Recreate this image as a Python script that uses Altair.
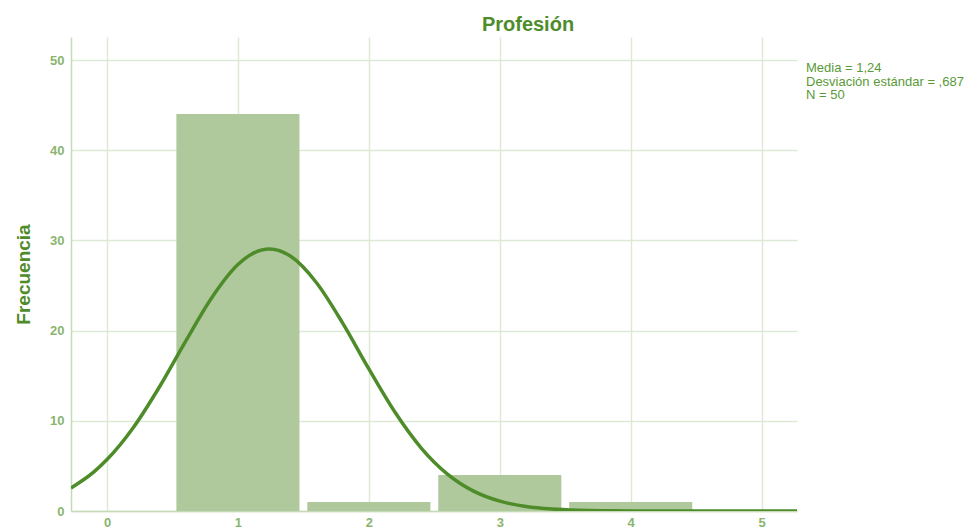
import altair as alt
import pandas as pd

# Histogram data
categories = [1, 2, 3, 4]
counts = [44, 1, 4, 1]

# Normal curve (Media = 1,24, SD = ,687, N = 50)
curve_x = [-0.275, -0.1, 0.0, 0.2, 0.4, 0.6, 0.8, 1.0, 1.1, 1.24, 1.4, 1.6, 1.8,
           2.0, 2.2, 2.4, 2.6, 2.8, 3.0, 3.2, 3.4, 3.6, 3.8, 4.0, 4.5, 5.0, 5.27]
curve_y = [2.55, 4.33, 5.70, 9.23, 13.75, 18.81, 23.65, 27.32, 28.44, 29.04, 28.26,
           25.31, 20.83, 15.75, 10.94, 6.98, 4.09, 2.20, 1.09, 0.50, 0.21, 0.08,
           0.03, 0.01, 0.0, 0.0, 0.0]

x_ticks = [0, 1, 2, 3, 4, 5]
y_ticks = [0, 10, 20, 30, 40, 50]

stats_lines = ["Media = 1,24", "Desviación estándar = ,687", "N = 50"]

bars_df = pd.DataFrame({"valor": categories, "frecuencia": counts})
curve_df = pd.DataFrame({"x": curve_x, "y": curve_y})

GRID = "#dde9d5"
LABEL = "#8ab56f"
DARK = "#4e8c2a"

xscale = alt.Scale(domain=[-0.275, 5.27], nice=False, zero=False)
yscale = alt.Scale(domain=[0, 52.55], nice=False)

xaxis = alt.Axis(values=x_ticks, title=None, grid=True, gridColor=GRID, gridWidth=1.5,
                 ticks=False, domainColor="#c5dbb8", domainWidth=1.5,
                 labelColor=LABEL, labelFontSize=13, labelFontWeight="bold",
                 labelFont="Liberation Sans", labelPadding=5, format="d")
yaxis = alt.Axis(values=y_ticks, title="Frecuencia", grid=True, gridColor=GRID, gridWidth=1.5,
                 ticks=False, domainColor="#c5dbb8", domainWidth=1.5,
                 labelColor=LABEL, labelFontSize=13, labelFontWeight="bold",
                 labelFont="Liberation Sans", labelPadding=7,
                 titleColor=DARK, titleFontSize=19, titleFont="Liberation Sans",
                 titleFontWeight="bold", titlePadding=16, format="d")

bars = alt.Chart(bars_df).transform_calculate(
    x0="datum.valor - 0.47", x1="datum.valor + 0.47"
).mark_rect(color="#afc99c").encode(
    x=alt.X("x0:Q", scale=xscale, axis=xaxis),
    x2="x1:Q",
    y=alt.Y("frecuencia:Q", scale=yscale, axis=yaxis),
    y2=alt.datum(0),
)

curve = alt.Chart(curve_df).mark_line(
    color=DARK, strokeWidth=3.5, interpolate="monotone", clip=True
).encode(
    x=alt.X("x:Q", scale=xscale),
    y=alt.Y("y:Q", scale=yscale),
)

stats = alt.Chart(pd.DataFrame({"t": ["\n".join(stats_lines)]})).mark_text(
    align="left", baseline="top", fontSize=13, lineHeight=13.5,
    font="Liberation Sans", color="#5a9a38", lineBreak="\n"
).encode(
    text="t:N", x=alt.value(735), y=alt.value(25)
)

chart = alt.layer(bars, curve, stats).properties(
    width=726, height=474,
    title=alt.Title("Profesión", fontSize=20, font="Liberation Sans", fontWeight="bold",
                    color=DARK, anchor="middle", dx=94, offset=2),
    autosize=alt.AutoSizeParams(type="none"),
    padding={"left": 63, "top": 29, "right": 170, "bottom": 20},
).configure_view(stroke=None)

chart.save("out.html", embed_options={"renderer": "svg", "actions": False})
